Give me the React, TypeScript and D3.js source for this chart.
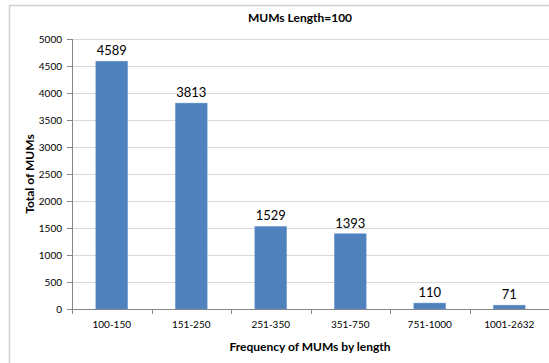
import React from "react";
import * as d3 from "d3";

const categories = ["100-150", "151-250", "251-350", "351-750", "751-1000", "1001-2632"];
const values = [4589, 3813, 1529, 1393, 110, 71];
const yTicks = [0, 500, 1000, 1500, 2000, 2500, 3000, 3500, 4000, 4500, 5000];

const W = 549;
const H = 363;
const m = { left: 72, right: 0, top: 39, bottom: 54 };
const font = "Lato, 'Open Sans', sans-serif";

export default function App() {
  const x = d3.scaleBand<string>().domain(categories).range([m.left, W - m.right]).paddingInner(0.6).paddingOuter(0.3);
  const band = d3.scaleBand<string>().domain(categories).range([m.left, W - m.right]);
  const y = d3.scaleLinear().domain([0, 5000]).range([H - m.bottom, m.top]);
  const y0 = y(0);
  return (
    <svg width={W} height={H} style={{ position: "absolute", left: 0, top: 0 }}>
      <rect x={0} y={0} width={W} height={H} fill="#fff" />
      <path d={`M9.5,${H} V5.5 H${W}`} fill="none" stroke="#d0d0d0" strokeWidth={1.5} />
      {yTicks.map((t) => (
        <g key={t}>
          {t > 0 && <line x1={m.left} x2={W - m.right} y1={y(t) + 0.5} y2={y(t) + 0.5} stroke="#d9d9d9" />}
          <line x1={m.left - 5} x2={m.left} y1={y(t) + 0.5} y2={y(t) + 0.5} stroke="#868686" />
          <text x={m.left - 10} y={y(t) + 3.5} textAnchor="end" fontSize={10} fontFamily={font} fill="#000">
            {t}
          </text>
        </g>
      ))}
      {values.map((v, i) => {
        const c = categories[i];
        return (
          <g key={c}>
            <rect x={x(c)!} y={y(v)} width={x.bandwidth()} height={y0 - y(v)} fill="#4f81bd" stroke="#6f9bd1" strokeWidth={0.5} />
            <text x={x(c)! + x.bandwidth() / 2} y={y(v) - 6} textAnchor="middle" fontSize={13} fontFamily={font} fill="#000">
              {v}
            </text>
            <text x={band(c)! + band.bandwidth() / 2} y={y0 + 19} textAnchor="middle" fontSize={10} fontFamily={font} fill="#000">
              {c}
            </text>
          </g>
        );
      })}
      {[...categories.map((c) => band(c)!), W - m.right].map((tx, i) => (
        <line key={i} x1={Math.round(tx) + 0.5} x2={Math.round(tx) + 0.5} y1={y0} y2={y0 + 5} stroke="#868686" />
      ))}
      <line x1={m.left + 0.5} x2={m.left + 0.5} y1={m.top} y2={y0} stroke="#868686" />
      <line x1={m.left} x2={W} y1={y0 + 0.5} y2={y0 + 0.5} stroke="#868686" />
      <text x={300} y={22} textAnchor="middle" fontSize={12} fontWeight="bold" fontFamily={font}>
        MUMs Length=100
      </text>
      <text x={310} y={351} textAnchor="middle" fontSize={12} fontWeight="bold" fontFamily={font}>
        Frequency of MUMs by length
      </text>
      <text transform={`translate(34,${(m.top + y0) / 2}) rotate(-90)`} textAnchor="middle" fontSize={12} fontWeight="bold" fontFamily={font}>
        Total of MUMs
      </text>
    </svg>
  );
}
